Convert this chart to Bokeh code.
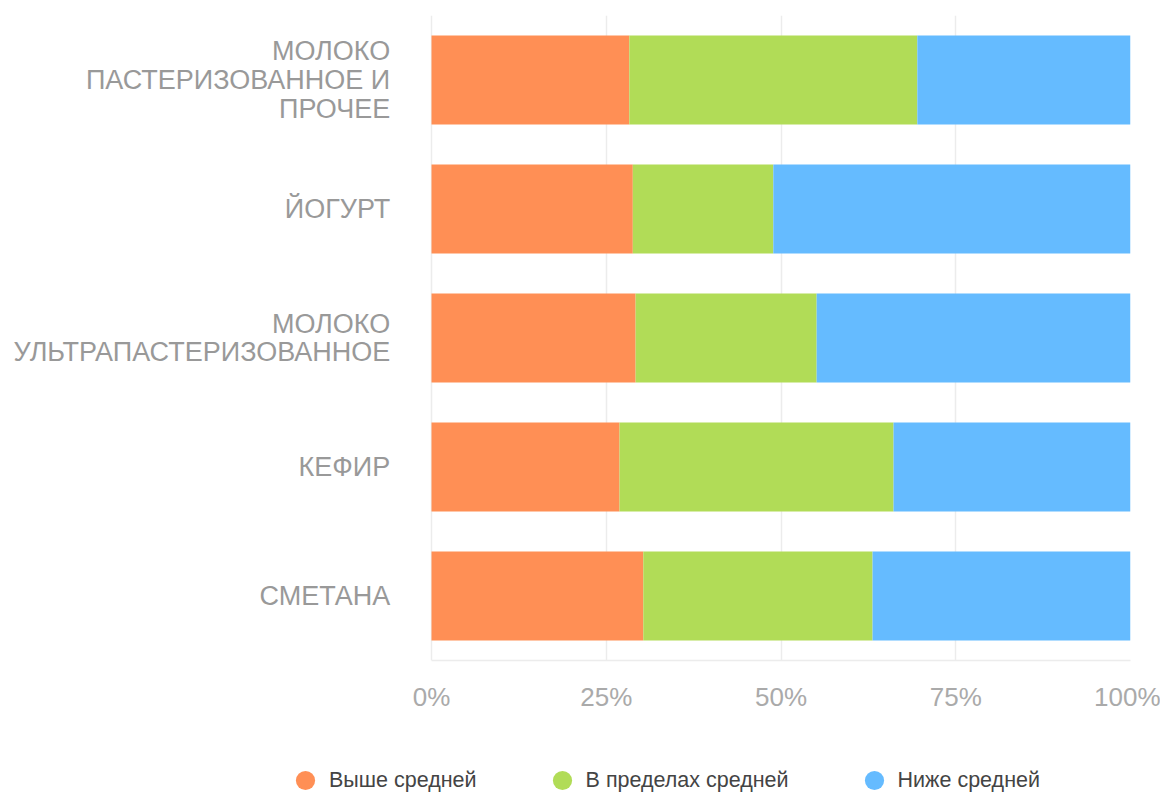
from bokeh.plotting import figure
from bokeh.layouts import column
from bokeh.models import (ColumnDataSource, FixedTicker, PrintfTickFormatter,
                          Range1d, FactorRange, Legend, LegendItem)
from bokeh.core.properties import value
from bokeh.embed import file_html
from bokeh.resources import INLINE

categories = ["МОЛОКО ПАСТЕРИЗОВАННОЕ И ПРОЧЕЕ", "ЙОГУРТ",
              "МОЛОКО УЛЬТРАПАСТЕРИЗОВАННОЕ", "КЕФИР", "СМЕТАНА"]
category_labels = ["МОЛОКО\nПАСТЕРИЗОВАННОЕ И\nПРОЧЕЕ", "ЙОГУРТ",
                   "МОЛОКО\nУЛЬТРАПАСТЕРИЗОВАННОЕ", "КЕФИР", "СМЕТАНА"]
above_avg = [28.3, 28.8, 29.2, 26.9, 30.3]
within_avg = [41.2, 20.1, 25.9, 39.2, 32.8]
below_avg = [30.5, 51.1, 44.9, 33.9, 36.9]
series_names = ["Выше средней", "В пределах средней", "Ниже средней"]
series_keys = ["above", "within", "below"]
colors = ["#FF8F55", "#B1DC57", "#65BBFF"]
x_ticks = [0, 25, 50, 75, 100]

FONT = "Liberation Sans"

source = ColumnDataSource(dict(cat=categories, label=category_labels,
                               above=above_avg, within=within_avg,
                               below=below_avg))

# x range extends to the left so that the category labels live inside the frame
p = figure(width=1160, height=760, output_backend="svg", toolbar_location=None,
           y_range=FactorRange(factors=list(reversed(categories)), range_padding=0),
           x_range=Range1d(-61.66, 100),
           min_border_left=0, min_border_right=30, min_border_top=15,
           min_border_bottom=100)

p.hbar_stack(series_keys, y="cat", height=0.69, color=colors,
             line_color=None, source=source)

p.text(x=-5.9, y="cat", text="label", source=source,
       text_font=value(FONT), text_font_size="27px", text_color="#999999",
       text_align="right", text_baseline="middle", text_line_height=0.96)

p.outline_line_color = None
p.background_fill_color = "white"
p.ygrid.grid_line_color = None
p.xgrid.grid_line_color = "#ececec"
p.xgrid.grid_line_width = 1.5
p.xgrid.ticker = FixedTicker(ticks=x_ticks)
p.xgrid.level = "underlay"

xa = p.xaxis[0]
xa.ticker = FixedTicker(ticks=x_ticks)
xa.bounds = (0, 100)
xa.formatter = PrintfTickFormatter(format="%d%%")
xa.axis_line_color = "#ececec"
xa.axis_line_width = 1.5
xa.major_tick_line_color = None
xa.minor_tick_line_color = None
xa.major_tick_out = 0
xa.major_tick_in = 0
xa.minor_tick_out = 0
xa.major_label_standoff = 21
xa.major_label_text_font = FONT
xa.major_label_text_font_size = "26px"
xa.major_label_text_color = "#aaaaaa"

p.yaxis.visible = False

# legend strip (its marker renderers use the main data, which lies outside this strip's 0..1 ranges)
pl = figure(width=1160, height=32, output_backend="svg", toolbar_location=None,
            x_range=Range1d(0, 1), y_range=Range1d(0, 1),
            min_border_left=0, min_border_right=0, min_border_top=0,
            min_border_bottom=0)
pl.xaxis.visible = False
pl.yaxis.visible = False
pl.grid.visible = False
pl.outline_line_color = None

legend_items = []
for name, key, col in zip(series_names, series_keys, colors):
    r = pl.scatter(x=key, y=key, source=source, marker="circle", size=20,
                   fill_color=col, line_color=None)
    legend_items.append(LegendItem(label=name, renderers=[r]))

legend = Legend(items=legend_items, orientation="horizontal",
                location=(281, -12), glyph_width=48, glyph_height=48,
                label_standoff=-1, spacing=61, padding=0, margin=0,
                border_line_color=None, background_fill_alpha=0,
                label_text_font=FONT, label_text_font_size="21.5px",
                label_text_color="#444444")
pl.add_layout(legend)

layout = column(p, pl, spacing=0)
open("out.html", "w").write(file_html(layout, INLINE))
